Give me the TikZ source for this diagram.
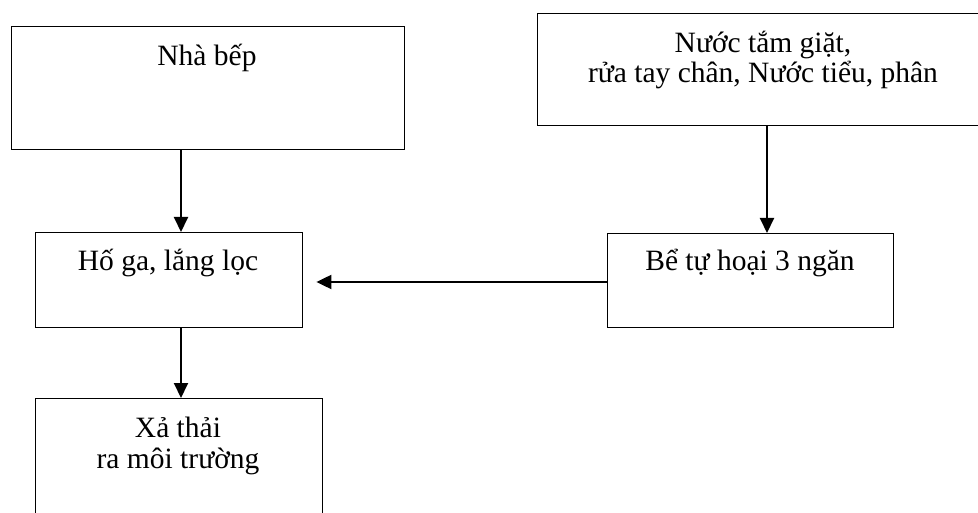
\documentclass[tikz,border=0pt]{standalone}
\usepackage{fontspec}
\setmainfont{Liberation Serif}
\usetikzlibrary{arrows.meta}
\tikzset{box/.style={draw, line width=1.4pt, rectangle, anchor=north west, inner sep=0pt},
  txt/.style={anchor=base, align=center, inner sep=0pt, font=\fontsize{29.5}{30.5}\selectfont},
  flow/.style={->, line width=2pt}}
\begin{document}
\begin{tikzpicture}[x=1pt,y=-1pt,>={Triangle[length=15pt,width=14pt]}]
\useasboundingbox (0,0) rectangle (978,513);
\clip (0,0) rectangle (978,513);
% \draw[red] (0,0) rectangle (978,513);
    \node[box, minimum width=393pt, minimum height=123pt] (bep) at (11,26) {};
    \node[box, minimum width=456pt, minimum height=112pt] (nuoc) at (537,13) {};
    \node[box, minimum width=267pt, minimum height=95pt] (hoga) at (35,232) {};
    \node[box, minimum width=286pt, minimum height=94pt] (be) at (607,233) {};
    \node[box, minimum width=287pt, minimum height=140pt] (xa) at (35,398) {};
    % base of a two-line node is its last line
    \node[txt] (bep-t)  at (207,66)  {Nhà bếp};
    \node[txt] (nuoc-t) at (763,83)  {Nước tắm giặt,\\rửa tay chân, Nước tiểu, phân};
    \node[txt] (hoga-t) at (168,271) {Hố ga, lắng lọc};
    \node[txt] (be-t)   at (750,271) {Bể tự hoại 3 ngăn};
    \node[txt] (xa-t)   at (178,468) {Xả thải\\ra môi trường};
    \coordinate (left) at (181,0);
    \coordinate (right) at (767,0);
    \coordinate (mid) at (0,282);
    \draw[flow] (bep.south -| left) -- (hoga.north -| left);
    \draw[flow] (hoga.south -| left) -- (xa.north -| left);
    \draw[flow] (nuoc.south -| right) -- (be.north -| right);
    \draw[flow, shorten >=13pt] (be.west |- mid) -- (hoga.east |- mid);
\end{tikzpicture}
\end{document}
